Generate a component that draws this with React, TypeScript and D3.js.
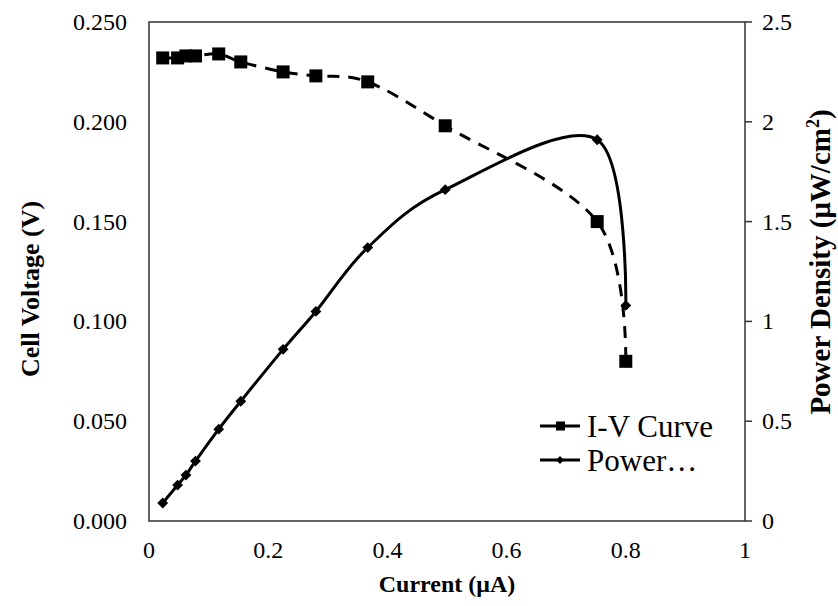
import React, { useEffect, useRef } from "react";
import * as d3 from "d3";

// current (uA)
const currents = [0.023, 0.048, 0.062, 0.078, 0.117, 0.154, 0.225, 0.28, 0.367, 0.497, 0.752, 0.8];
// cell voltage (V)
const voltages = [0.232, 0.232, 0.233, 0.233, 0.234, 0.23, 0.225, 0.223, 0.22, 0.198, 0.15, 0.08];
// power density (uW/cm2)
const powers = [0.09, 0.18, 0.23, 0.3, 0.46, 0.6, 0.86, 1.05, 1.37, 1.66, 1.91, 1.08];

const xTicks = [0, 0.2, 0.4, 0.6, 0.8, 1];
const leftTicks = [0, 0.05, 0.1, 0.15, 0.2, 0.25];
const rightTicks = [0, 0.5, 1, 1.5, 2, 2.5];

const W = 838;
const H = 606;
const FONT = "Liberation Serif, serif";

const App = () => {
  const svgRef = useRef<SVGSVGElement>(null);

  useEffect(() => {
    const svg = d3.select(svgRef.current)
      .attr("font-family", FONT);
    svg.selectAll("*").remove();

    const left = 149, right = 745, top = 22, bottom = 521;
    const x = d3.scaleLinear().domain([0, 1]).range([left, right]);
    const yL = d3.scaleLinear().domain([0, 0.25]).range([bottom, top]);
    const yR = d3.scaleLinear().domain([0, 2.5]).range([bottom, top]);

    // plot border
    svg.append("rect")
      .attr("x", left).attr("y", top)
      .attr("width", right - left).attr("height", bottom - top)
      .attr("fill", "none").attr("stroke", "#333").attr("stroke-width", 1.5);

    // right axis ticks
    svg.selectAll(".rtick").data(rightTicks).enter().append("line")
      .attr("x1", right).attr("x2", right + 7)
      .attr("y1", (d) => yR(d)).attr("y2", (d) => yR(d))
      .attr("stroke", "#333").attr("stroke-width", 1.5);

    // tick labels
    svg.selectAll(".xl").data(xTicks).enter().append("text")
      .attr("x", (d) => x(d)).attr("y", 558)
      .attr("text-anchor", "middle")
      .attr("font-size", 24)
      .text((d) => String(d));

    svg.selectAll(".ll").data(leftTicks).enter().append("text")
      .attr("x", 127).attr("y", (d) => yL(d) + 8)
      .attr("text-anchor", "end")
      .attr("font-size", 24)
      .text((d) => d3.format(".3f")(d));

    svg.selectAll(".rl").data(rightTicks).enter().append("text")
      .attr("x", 762).attr("y", (d) => yR(d) + 8)
      .attr("text-anchor", "start")
      .attr("font-size", 24)
      .text((d) => String(d));

    // axis titles
    svg.append("text")
      .attr("x", 447).attr("y", 592)
      .attr("text-anchor", "middle")
      .attr("font-size", 24).attr("font-weight", "bold")
      .text("Current (μA)");

    svg.append("text")
      .attr("transform", "translate(39, 289) rotate(-90)")
      .attr("text-anchor", "middle")
      .attr("font-size", 26).attr("font-weight", "bold")
      .text("Cell Voltage (V)");

    const rt = svg.append("text")
      .attr("transform", "translate(830, 262) rotate(-90)")
      .attr("text-anchor", "middle")
      .attr("font-size", 29).attr("font-weight", "bold");
    rt.append("tspan").text("Power Density (μW/cm");
    rt.append("tspan").attr("dy", -11).attr("font-size", 18).text("2");
    rt.append("tspan").attr("dy", 11).text(")");

    const ivData = currents.map((c, i) => [c, voltages[i]] as [number, number]);
    const pData = currents.map((c, i) => [c, powers[i]] as [number, number]);

    const ivLine = d3.line<[number, number]>()
      .x((d) => x(d[0])).y((d) => yL(d[1]))
      .curve(d3.curveCatmullRom.alpha(0));
    const pLine = d3.line<[number, number]>()
      .x((d) => x(d[0])).y((d) => yR(d[1]))
      .curve(d3.curveCatmullRom.alpha(0));

    svg.append("path").attr("d", ivLine(ivData))
      .attr("fill", "none").attr("stroke", "#000")
      .attr("stroke-width", 3).attr("stroke-dasharray", "12,9");

    svg.append("path").attr("d", pLine(pData))
      .attr("fill", "none").attr("stroke", "#000").attr("stroke-width", 3);

    // markers
    svg.selectAll(".sq").data(ivData).enter().append("rect")
      .attr("x", (d) => x(d[0]) - 6.5).attr("y", (d) => yL(d[1]) - 6.5)
      .attr("width", 13).attr("height", 13).attr("fill", "#000");

    const diamond = d3.symbol().type(d3.symbolDiamond2).size(75);
    svg.selectAll(".dm").data(pData).enter().append("path")
      .attr("d", diamond)
      .attr("transform", (d) => `translate(${x(d[0])}, ${yR(d[1])})`)
      .attr("fill", "#000");

    // legend
    const legend = [
      { label: "I-V Curve", y: 426, marker: "square" },
      { label: "Power…", y: 460, marker: "diamond" },
    ];
    legend.forEach((l) => {
      svg.append("line")
        .attr("x1", 540).attr("x2", 580).attr("y1", l.y).attr("y2", l.y)
        .attr("stroke", "#000").attr("stroke-width", 3);
      if (l.marker === "square") {
        svg.append("rect").attr("x", 556).attr("y", l.y - 4.5)
          .attr("width", 9).attr("height", 9).attr("fill", "#000");
      } else {
        svg.append("path").attr("d", d3.symbol().type(d3.symbolDiamond2).size(40)())
          .attr("transform", `translate(560, ${l.y})`).attr("fill", "#000");
      }
      svg.append("text")
        .attr("x", 587).attr("y", l.y + 11)
        .attr("font-size", 31)
        .text(l.label);
    });
  }, []);

  return (
    <div style={{ position: "absolute", left: 0, top: 0 }}>
      <svg ref={svgRef} width={W} height={H} style={{ display: "block", background: "#fff" }}></svg>
    </div>
  );
};

export default App;
